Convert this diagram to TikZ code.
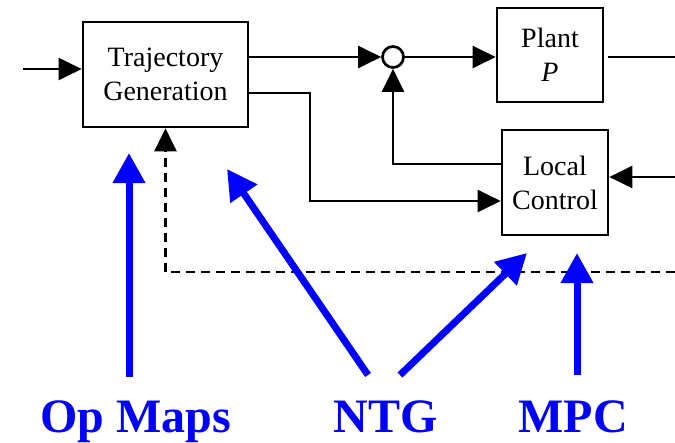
\documentclass[tikz,border=0pt]{standalone}
\usepackage{fontspec}
\setmainfont{Liberation Serif}
\usetikzlibrary{arrows.meta}
\begin{document}
\begin{tikzpicture}[x=1pt,y=-1pt,
  line width=2.7pt,
  blk/.style={draw,line width=2.7pt,rectangle,align=center,font=\fontsize{28}{34}\selectfont,inner sep=0pt},
  sig/.style={-{Triangle[length=23pt,width=22pt]}},
  hint/.style={blue,line width=7pt,-{Triangle[length=30pt,width=31pt]}},
  tag/.style={blue,font=\bfseries\fontsize{48}{48}\selectfont,anchor=base,inner sep=0pt}]
\useasboundingbox (0,0) rectangle (675,442);
% blocks
\node[blk,minimum width=165pt,minimum height=105pt] (traj) at (165.5,74.5) {Trajectory\\Generation};
\node[draw,circle,line width=2.7pt,minimum size=21pt,inner sep=0pt] (sum) at (393,57) {};
\node[blk,minimum width=106pt,minimum height=94pt] (plant) at (550,55) {Plant\\\itshape P};
\node[blk,minimum width=106pt,minimum height=105pt] (lc) at (555,182.5) {Local\\Control};
% free ends
\coordinate (in) at (23,69);
\coordinate (out) at (675,57);
\coordinate (ext) at (675,177);
\coordinate (dash) at (675,272);
% signal lines
\draw[sig] (in) -- (in -| traj.west);
\draw[sig] (traj.east |- sum) -- (sum.west);
\draw[sig] (sum.east) -- (plant.west |- sum);
\draw ([xshift=4pt]plant.east |- out) -- (out);
\draw[sig] (traj.east |- 0,93) -- (310,93) -- (310,201) -- (lc.west |- 0,201);
\draw[sig] (lc.west |- 0,164) -| (sum.south);
\draw[sig] (ext) -- (lc.east |- ext);
\draw[sig,dash pattern=on 9pt off 6pt] (dash) -- (traj.south |- dash) -- (traj.south);
% labels and pointers
\node[tag] (op) at (136,432) {Op Maps};
\node[tag] (ntg) at (386,432) {NTG};
\node[tag] (mpc) at (573,432) {MPC};
\draw[hint] (op.north -| 129,0) ++(0,-22) -- (129,153);
\draw[hint] (368,375) -- (227,169);
\draw[hint] (400,375) -- (527,253);
\draw[hint] (577,375) -- (577,253);
\end{tikzpicture}
\end{document}
